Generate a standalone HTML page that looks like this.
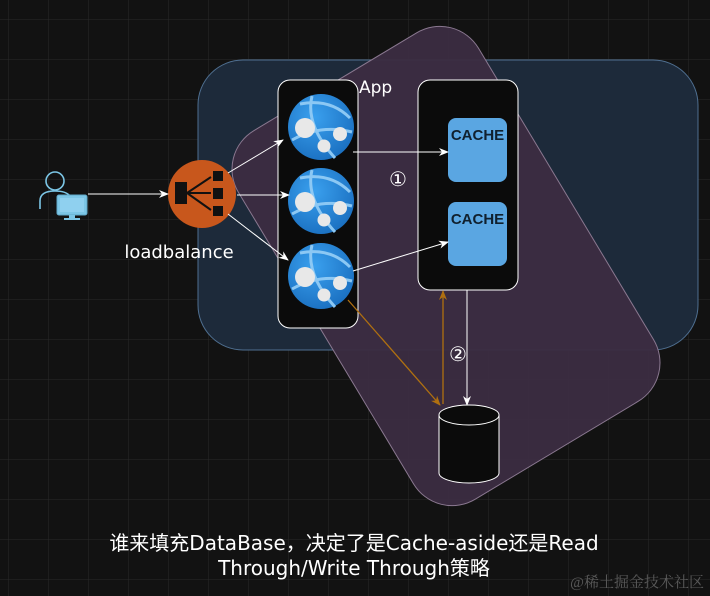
<!DOCTYPE html>
<html><head><meta charset="utf-8"><style>
html,body{margin:0;padding:0;}
body{width:710px;height:596px;overflow:hidden;background:#121212;position:relative;font-family:"DejaVu Sans","Noto Sans CJK SC",sans-serif;}
</style></head><body>
<svg width="710" height="596" viewBox="0 0 710 596" xmlns="http://www.w3.org/2000/svg" style="position:absolute;left:0;top:0">
<defs>
<pattern id="g" width="40" height="40" patternUnits="userSpaceOnUse" x="8" y="19">
<path d="M0 0H40M0 0V40" stroke="#2a2a2a" stroke-width="1" fill="none"/>
</pattern>
<marker id="aw" markerWidth="10" markerHeight="10" refX="9" refY="5" orient="auto" markerUnits="userSpaceOnUse"><path d="M0 1L10 5L0 9L3 5Z" fill="#fff"/></marker>
<marker id="ao" markerWidth="10" markerHeight="10" refX="9" refY="5" orient="auto" markerUnits="userSpaceOnUse"><path d="M0 1L10 5L0 9L3 5Z" fill="#b07010"/></marker>
<radialGradient id="gl" cx="40%" cy="35%" r="70%"><stop offset="0" stop-color="#3aa0ee"/><stop offset="1" stop-color="#1a6fc0"/></radialGradient>
</defs>
<rect width="710" height="596" fill="url(#g)"/>
<rect x="198" y="60" width="500" height="290" rx="45" fill="#1d2a3a" stroke="#4f6f90" stroke-width="1"/>
<rect x="-140" y="-215" width="280" height="430" rx="45" transform="translate(446,266) rotate(-31)" fill="#3b2d42" fill-opacity="0.96" stroke="#8a7890" stroke-width="1"/>
<rect x="278" y="80" width="80" height="248" rx="12" fill="#0b0b0b" stroke="#fff" stroke-width="1"/>
<text x="359" y="93" fill="#fff" font-size="17">App</text>
<rect x="418" y="80" width="100" height="210" rx="12" fill="#0b0b0b" stroke="#fff" stroke-width="1"/>
<rect x="448" y="118" width="59" height="64" rx="8" fill="#5aa6e2"/>
<rect x="448" y="202" width="59" height="64" rx="8" fill="#5aa6e2"/>
<text x="477.5" y="140" fill="#10202e" font-size="15" text-anchor="middle" font-weight="bold" font-family="Liberation Sans Narrow,Liberation Sans,sans-serif">CACHE</text>
<text x="477.5" y="224" fill="#10202e" font-size="15" text-anchor="middle" font-weight="bold" font-family="Liberation Sans Narrow,Liberation Sans,sans-serif">CACHE</text>
<g>
<circle cx="321" cy="127" r="33" fill="url(#gl)"/>
<path d="M300 104Q330 98 350 118M292 140Q320 124 352 132M312 96Q305 125 335 158" stroke="#8cc8f4" stroke-width="3" fill="none"/>
<circle cx="305" cy="128" r="10" fill="#e8e8e8"/><circle cx="340" cy="134" r="7" fill="#e8e8e8"/><circle cx="324" cy="146" r="6.5" fill="#e8e8e8"/>
</g>
<g transform="translate(0,74)">
<circle cx="321" cy="127" r="33" fill="url(#gl)"/>
<path d="M300 104Q330 98 350 118M292 140Q320 124 352 132M312 96Q305 125 335 158" stroke="#8cc8f4" stroke-width="3" fill="none"/>
<circle cx="305" cy="128" r="10" fill="#e8e8e8"/><circle cx="340" cy="134" r="7" fill="#e8e8e8"/><circle cx="324" cy="146" r="6.5" fill="#e8e8e8"/>
</g>
<g transform="translate(0,149)">
<circle cx="321" cy="127" r="33" fill="url(#gl)"/>
<path d="M300 104Q330 98 350 118M292 140Q320 124 352 132M312 96Q305 125 335 158" stroke="#8cc8f4" stroke-width="3" fill="none"/>
<circle cx="305" cy="128" r="10" fill="#e8e8e8"/><circle cx="340" cy="134" r="7" fill="#e8e8e8"/><circle cx="324" cy="146" r="6.5" fill="#e8e8e8"/>
</g>
<g stroke="#7cc6e6" stroke-width="1.6" fill="none">
<circle cx="55" cy="181" r="9"/>
<path d="M40 209V201Q40 191 55 191Q66 191 70 196"/>
</g>
<rect x="57" y="195" width="30" height="20" rx="2" fill="#7cc6e6" stroke="#5fa8c8"/>
<rect x="60" y="198" width="24" height="14" fill="#8fd0ef"/>
<rect x="69" y="215" width="6" height="3" fill="#7cc6e6"/><rect x="64" y="218" width="16" height="2" fill="#7cc6e6"/>
<circle cx="202" cy="194" r="34" fill="#c8571c"/>
<rect x="175" y="182" width="12" height="22" fill="#111"/>
<rect x="213" y="171" width="10" height="10" fill="#111"/><rect x="213" y="188" width="10" height="11" fill="#111"/><rect x="213" y="206" width="10" height="10" fill="#111"/>
<path d="M187 193L211 177M187 193L211 193M187 193L211 210" stroke="#111" stroke-width="2"/>
<text x="179" y="258" fill="#fff" font-size="18" text-anchor="middle">loadbalance</text>
<g stroke="#fff" stroke-width="1" fill="none">
<path d="M88 194H168" marker-end="url(#aw)"/>
<path d="M228 173L283 140" marker-end="url(#aw)"/>
<path d="M237 195H289" marker-end="url(#aw)"/>
<path d="M228 214L288 260" marker-end="url(#aw)"/>
<path d="M353 152H448" marker-end="url(#aw)"/>
<path d="M353 271L448 242" marker-end="url(#aw)"/>
<path d="M467 290V405" marker-end="url(#aw)"/>
</g>
<g stroke="#b07010" stroke-width="1.3" fill="none">
<path d="M348 300L440 405" marker-end="url(#ao)"/>
<path d="M443 404V291" marker-end="url(#ao)"/>
</g>
<text x="398" y="186" fill="#fff" font-size="20" text-anchor="middle">①</text>
<text x="458" y="361" fill="#fff" font-size="20" text-anchor="middle">②</text>
<path d="M439 415V473A30 10 0 0 0 499 473V415" fill="#0b0b0b" stroke="#fff" stroke-width="1"/>
<ellipse cx="469" cy="415" rx="30" ry="10" fill="#0b0b0b" stroke="#fff" stroke-width="1"/>
<text x="354" y="550" fill="#fff" font-size="20" text-anchor="middle">谁来填充DataBase，决定了是Cache-aside还是Read</text>
<text x="354" y="575" fill="#fff" font-size="20" text-anchor="middle">Through/Write Through策略</text>
<text x="704" y="587" fill="#5a5a5a" font-size="15" text-anchor="end" font-family="Liberation Serif,Noto Serif CJK SC,serif">@稀土掘金技术社区</text>
</svg>
</body></html>
